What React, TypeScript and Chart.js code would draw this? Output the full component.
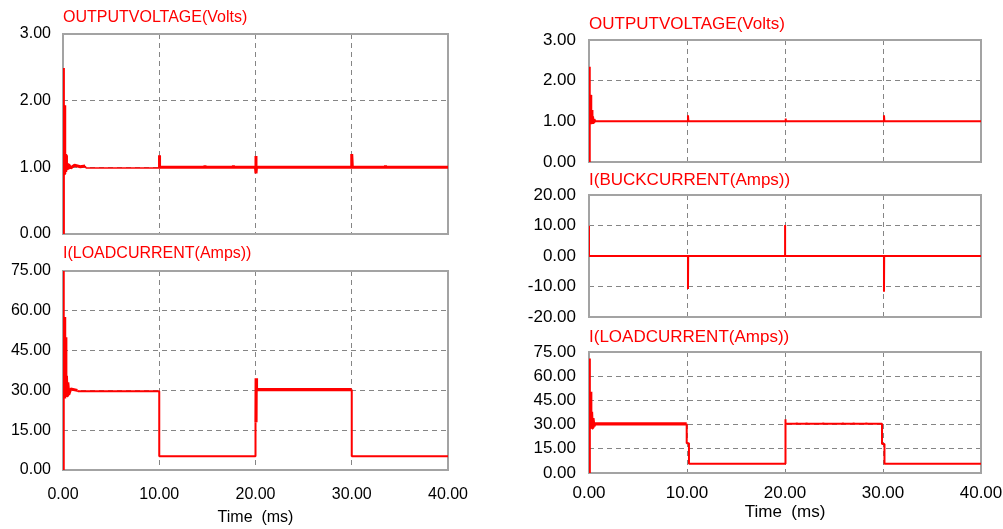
import { useEffect, useRef } from "react";
import { Chart, registerables } from "chart.js";

Chart.register(...registerables);

type Pt = [number, number];

// ---- tick values ----
const timeTicks = [0, 10, 20, 30, 40];
const voltageTicks = [0, 1, 2, 3];
const loadCurrentTicks = [0, 15, 30, 45, 60, 75];
const buckCurrentTicks = [-20, -10, 0, 10, 20];

// ---- left column: output voltage (time ms, volts) ----
const leftVoltage: Pt[] = [
  [0, 0], [0, 2.49], [0.04, 0.92], [0.08, 1.95], [0.12, 0.9], [0.16, 1.93], [0.2, 0.93],
  [0.24, 1.2], [0.28, 0.93], [0.32, 1.18], [0.36, 0.96], [0.42, 1.06], [0.5, 0.97],
  [0.6, 1.04], [0.8, 0.99], [1.2, 1.03], [1.8, 1.01], [2.3, 1.02], [2.4, 0.99],
  [9.98, 0.99], [10.0, 0.99], [10.0, 1.18], [10.06, 1.0],
  [14.75, 1.0], [14.75, 1.03], [14.76, 1.0],
  [17.7, 1.0], [17.7, 1.03], [17.71, 1.0],
  [20.0, 1.0], [20.05, 1.17], [20.05, 0.91], [20.1, 1.0],
  [29.98, 1.0], [30.0, 1.0], [30.0, 1.2], [30.06, 1.0],
  [33.5, 1.0], [33.5, 1.03], [33.51, 1.0], [40, 1.0],
];

// ---- left column: load current (time ms, amps) ----
const leftLoadCurrent: Pt[] = [
  [0, 0], [0, 75], [0.05, 27], [0.12, 57.7], [0.18, 27], [0.26, 50], [0.3, 27.5],
  [0.36, 35.5], [0.42, 28], [0.5, 33], [0.6, 28.5], [0.8, 30.5], [1.5, 30], [1.55, 29.7],
  [10, 29.7], [10, 5.2], [19.95, 5.2], [19.95, 17.5], [20.05, 18], [20.07, 34.6],
  [20.1, 30.3], [29.98, 30.3], [30, 30.3], [30, 5.2], [40, 5.2],
];

// ---- right column: output voltage ----
const rightVoltage: Pt[] = [
  [0, 0], [0, 2.34], [0.05, 0.92], [0.12, 1.65], [0.18, 0.93], [0.25, 1.28], [0.3, 0.94],
  [0.36, 1.12], [0.42, 0.97], [0.5, 1.05], [0.6, 1.0],
  [10.08, 1.0], [10.1, 1.15], [10.14, 1.0],
  [20.03, 1.0], [20.05, 1.07], [20.1, 1.0],
  [30.08, 1.0], [30.1, 1.15], [30.14, 1.0], [40, 1.0],
];

// ---- right column: buck current ----
const rightBuckCurrent: Pt[] = [
  [0, 9.9], [0, 0], [10.1, 0], [10.1, -10.8], [10.12, 0],
  [20, 0], [20, 10.2], [20.02, 0],
  [30.1, 0], [30.1, -11.7], [30.12, 0], [40, 0],
];

// ---- right column: load current ----
const rightLoadCurrent: Pt[] = [
  [0, 0], [0, 71], [0.05, 27], [0.12, 50.4], [0.18, 27.5], [0.26, 38], [0.32, 28],
  [0.4, 34], [0.5, 29], [0.6, 30.5], [9.97, 30.5], [9.97, 18.4], [10.2, 18.4], [10.2, 5.8],
  [20, 5.8], [20, 33.3], [20.1, 30.5],
  [21.2, 30.5], [21.2, 31.3], [21.21, 30.5],
  [22.2, 30.5], [22.2, 31.3], [22.21, 30.5],
  [23.9, 30.5], [23.9, 31.3], [23.91, 30.5],
  [25.9, 30.5], [25.9, 31.3], [25.91, 30.5],
  [27.0, 30.5], [27.0, 31.3], [27.01, 30.5],
  [28.3, 30.5], [28.3, 31.3], [28.31, 30.5],
  [29.9, 30.5], [29.9, 18], [30.15, 18], [30.15, 5.8], [40, 5.8],
];

const FONT = '"Liberation Sans", Arial, sans-serif';
const PAGE_W = 1003;
const PAGE_H = 529;

interface PanelSpec {
  title: string;
  series: Pt[];
  yTicks: number[];
  showX: boolean;
  plot: { left: number; top: number; right: number; bottom: number };
  axisWidth: number;
  xAxisHeight: number;
  tickPad: number;
  xTickPad: number;
  titleY: number;
  fontSize: number;
  widthFor: (x: number) => number;
}

const panels: PanelSpec[] = [
  {
    title: "OUTPUTVOLTAGE(Volts)",
    series: leftVoltage,
    yTicks: voltageTicks,
    showX: false,
    plot: { left: 63, top: 34, right: 448, bottom: 234 },
    axisWidth: 55,
    xAxisHeight: 0,
    tickPad: 12,
    xTickPad: 15,
    titleY: 17.5,
    fontSize: 16,
    widthFor: (x) => (x < 2.3 ? 3 : x >= 10 ? 3 : 1.6),
  },
  {
    title: "I(LOADCURRENT(Amps))",
    series: leftLoadCurrent,
    yTicks: loadCurrentTicks,
    showX: true,
    plot: { left: 63, top: 271, right: 448, bottom: 470 },
    axisWidth: 55,
    xAxisHeight: 57,
    tickPad: 12,
    xTickPad: 15,
    titleY: 254,
    fontSize: 16,
    widthFor: (x) => (x < 1.5 ? 3 : x >= 20 && x < 30 ? 3.2 : 2),
  },
  {
    title: "OUTPUTVOLTAGE(Volts)",
    series: rightVoltage,
    yTicks: voltageTicks,
    showX: false,
    plot: { left: 589, top: 40, right: 981, bottom: 162 },
    axisWidth: 70,
    xAxisHeight: 0,
    tickPad: 13,
    xTickPad: 10,
    titleY: 24,
    fontSize: 17,
    widthFor: (x) => (x < 0.6 ? 3 : 2),
  },
  {
    title: "I(BUCKCURRENT(Amps))",
    series: rightBuckCurrent,
    yTicks: buckCurrentTicks,
    showX: false,
    plot: { left: 589, top: 195, right: 981, bottom: 317 },
    axisWidth: 70,
    xAxisHeight: 0,
    tickPad: 13,
    xTickPad: 10,
    titleY: 180,
    fontSize: 17,
    widthFor: () => 2,
  },
  {
    title: "I(LOADCURRENT(Amps))",
    series: rightLoadCurrent,
    yTicks: loadCurrentTicks,
    showX: true,
    plot: { left: 589, top: 352, right: 981, bottom: 473 },
    axisWidth: 70,
    xAxisHeight: 50,
    tickPad: 13,
    xTickPad: 10,
    titleY: 337,
    fontSize: 17,
    widthFor: (x) => (x < 9.97 ? 3.2 : 2),
  },
];

function Panel({ spec }: { spec: PanelSpec }) {
  const ref = useRef<HTMLCanvasElement>(null);
  useEffect(() => {
    const canvas = ref.current;
    if (!canvas) return;
    const font = { family: FONT, size: spec.fontSize };
    const gridColor = (ticks: number[]) => (c: any) => {
      const v = c.tick ? c.tick.value : null;
      return v === ticks[0] || v === ticks[ticks.length - 1] ? "rgba(0,0,0,0)" : "#858585";
    };
    const framePlugin = {
      id: "frame",
      beforeDatasetsDraw(chart: any) {
        const { ctx, chartArea } = chart;
        ctx.save();
        ctx.strokeStyle = "#a3a3a3";
        ctx.lineWidth = 2;
        ctx.strokeRect(chartArea.left, chartArea.top, chartArea.right - chartArea.left, chartArea.bottom - chartArea.top);
        ctx.restore();
      },
    };
    const titlePlugin = {
      id: "panelTitle",
      afterDraw(chart: any) {
        const { ctx, chartArea } = chart;
        ctx.save();
        ctx.font = `${spec.fontSize}px ${FONT}`;
        ctx.fillStyle = "#ff0000";
        ctx.textAlign = "left";
        ctx.textBaseline = "middle";
        ctx.fillText(spec.title, chartArea.left, spec.titleY);
        ctx.restore();
      },
    };
    const p = spec.plot;
    const chart = new Chart(canvas, {
      type: "line",
      data: {
        datasets: [
          {
            data: spec.series.map(([x, y]) => ({ x, y })),
            borderColor: "#ff0000",
            borderWidth: 2,
            borderJoinStyle: "bevel",
            borderCapStyle: "butt",
            pointRadius: 0,
            tension: 0,
            fill: false,
            segment: {
              borderWidth: (c: any) => spec.widthFor(c.p0.parsed.x),
            },
          } as any,
        ],
      },
      options: {
        responsive: false,
        animation: false,
        events: [],
        layout: {
          padding: {
            left: p.left - spec.axisWidth,
            top: p.top,
            right: PAGE_W - p.right,
            bottom: PAGE_H - p.bottom - spec.xAxisHeight,
          },
        },
        plugins: {
          legend: { display: false },
          tooltip: { enabled: false },
          title: { display: false },
        },
        scales: {
          x: {
            type: "linear",
            min: timeTicks[0],
            max: timeTicks[timeTicks.length - 1],
            afterBuildTicks: (s: any) => {
              s.ticks = timeTicks.map((v) => ({ value: v }));
            },
            afterFit: (s: any) => {
              s.height = spec.xAxisHeight;
              s.paddingLeft = 0;
              s.paddingRight = 0;
            },
            grid: { display: true, drawTicks: false, lineWidth: 1, color: gridColor(timeTicks) },
            border: { display: false, dash: [5, 4] },
            ticks: {
              display: spec.showX,
              padding: spec.xTickPad,
              maxRotation: 0,
              autoSkip: false,
              color: "#000",
              font,
              callback: (v: any) => Number(v).toFixed(2),
            },
            title: { display: spec.showX, text: "Time  (ms)", color: "#000", font, padding: 0 },
          },
          y: {
            type: "linear",
            min: spec.yTicks[0],
            max: spec.yTicks[spec.yTicks.length - 1],
            afterBuildTicks: (s: any) => {
              s.ticks = spec.yTicks.map((v) => ({ value: v }));
            },
            afterFit: (s: any) => {
              s.width = spec.axisWidth;
              s.paddingTop = 0;
              s.paddingBottom = 0;
            },
            grid: { display: true, drawTicks: false, lineWidth: 1, color: gridColor(spec.yTicks) },
            border: { display: false, dash: [5, 4] },
            ticks: {
              padding: spec.tickPad,
              autoSkip: false,
              color: "#000",
              font,
              callback: (v: any) => Number(v).toFixed(2),
            },
          },
        },
      } as any,
      plugins: [framePlugin, titlePlugin],
    });
    return () => chart.destroy();
  }, [spec]);
  return (
    <canvas
      ref={ref}
      width={PAGE_W}
      height={PAGE_H}
      style={{ position: "absolute", left: 0, top: 0, width: PAGE_W, height: PAGE_H }}
    />
  );
}

export default function App() {
  return (
    <div
      style={{
        position: "absolute",
        left: 0,
        top: 0,
        width: PAGE_W,
        height: PAGE_H,
        background: "#ffffff",
        overflow: "hidden",
      }}
    >
      {panels.map((s, i) => (
        <Panel key={i} spec={s} />
      ))}
    </div>
  );
}
